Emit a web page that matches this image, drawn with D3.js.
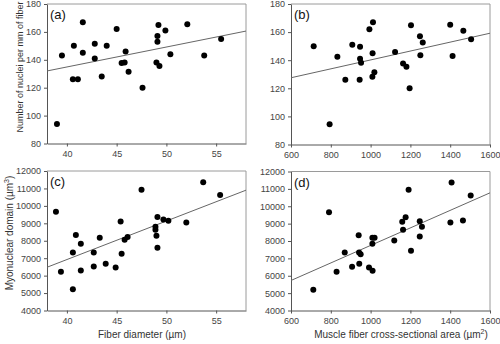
<!DOCTYPE html>
<meta charset="utf-8">
<script src="https://cdn.jsdelivr.net/npm/d3@7"></script>
<style>
    body { margin: 0; background: #fff; }
    text { font-family: "Liberation Sans", Arial, sans-serif; }
</style>
<body>
<script>
// fiber diameter (um) vs nuclei per mm
var diamA   = [39.0, 39.5, 40.7, 40.6, 41.1, 41.6, 41.6, 42.8, 42.8, 43.5, 44.0, 45.0, 45.5, 45.8,
               45.9, 46.2, 47.6, 49.0, 49.3, 49.1, 49.1, 49.2, 49.9, 50.4, 52.1, 53.8, 55.5];
var nucleiA = [94, 143, 150, 126, 126, 167, 145, 141, 151.5, 128, 150, 162, 137.7, 138,
               146, 131.5, 120, 138, 135.5, 153, 157, 165, 161, 144, 165.5, 143, 155];

// cross-sectional area (um2) vs nuclei per mm
var csaB    = [714, 794, 833, 873, 908, 947, 947, 952, 945, 994, 1012, 1010, 1009, 1019,
               1123, 1163, 1180, 1196, 1203, 1248, 1250, 1262, 1400, 1412, 1466, 1505];
var nucleiB = [150, 94.4, 142.5, 126, 151, 141, 149.5, 138.2, 126, 162, 167, 145, 128.2, 131.5,
               145.8, 137.7, 135.3, 120, 164.8, 157, 143.6, 152.6, 165.2, 143, 161, 155];

// fiber diameter vs myonuclear domain (um3)
var diamC   = [38.9, 39.4, 40.6, 40.6, 40.9, 41.4, 41.4, 42.7, 42.7, 43.3, 43.9, 44.9, 45.4, 45.5,
               45.8, 46.1, 47.5, 48.9, 48.9, 49.0, 49.1, 49.1, 49.7, 50.2, 52.0, 53.7, 55.4];
var domainC = [9665, 6220, 7330, 5225, 8325, 7827, 6296, 7330, 6526, 8172, 6679, 6469, 9110, 7253,
               8057, 8210, 10928, 8631, 8804, 8287, 7598, 9359, 9225, 9148, 9053, 11350, 10622];

// cross-sectional area vs myonuclear domain
var csaD    = [712, 791, 829, 870, 907, 940, 942, 950, 943, 992, 1009, 1009, 1010, 1020,
               1119, 1159, 1163, 1176, 1191, 1203, 1247, 1247, 1258, 1401, 1407, 1464, 1503];
var domainD = [5191, 9660, 6227, 7339, 6514, 8337, 7339, 7243, 6687, 6477, 8183, 7838, 6284, 8183,
               8030, 9104, 8644, 9372, 10945, 7435, 9143, 8260, 8816, 9066, 11367, 9181, 10619];

// regression line end points
var fitA = [[38, 132], [58, 160.6]];
var fitB = [[600, 127.5], [1600, 159.2]];
var fitC = [[38, 6480], [58, 10900]];
var fitD = [[600, 5728], [1600, 10772]];

var diamTicks   = [40, 45, 50, 55];
var csaTicks    = [600, 800, 1000, 1200, 1400, 1600];
var nucleiTicks = [80, 100, 120, 140, 160, 180];
var domainTicks = [4000, 5000, 6000, 7000, 8000, 9000, 10000, 11000, 12000];

var width = 500, height = 344;
var svg = d3.select("body").append("svg")
    .attr("width", width)
    .attr("height", height);

var panels = [
  {tag: "(a)", xs: diamA, ys: nucleiA, fit: fitA, xd: [38, 58], yd: [80, 180],
   xt: diamTicks, yt: nucleiTicks, xr: [47, 246], yr: [143.5, 4]},
  {tag: "(b)", xs: csaB, ys: nucleiB, fit: fitB, xd: [600, 1600], yd: [80, 180],
   xt: csaTicks, yt: nucleiTicks, xr: [291, 490], yr: [144.5, 4]},
  {tag: "(c)", xs: diamC, ys: domainC, fit: fitC, xd: [38, 58], yd: [4000, 12000],
   xt: diamTicks, yt: domainTicks, xr: [47, 246], yr: [310.5, 171]},
  {tag: "(d)", xs: csaD, ys: domainD, fit: fitD, xd: [600, 1600], yd: [4000, 12000],
   xt: csaTicks, yt: domainTicks, xr: [291, 490], yr: [310.5, 171.5]}
];

panels.forEach(function(p) {
  var x = d3.scaleLinear().domain(p.xd).range(p.xr);
  var y = d3.scaleLinear().domain(p.yd).range(p.yr);
  var g = svg.append("g");

  // frame on top and right
  g.append("path")
    .attr("d", "M" + p.xr[0] + "," + p.yr[1] + "H" + p.xr[1] + "V" + p.yr[0])
    .attr("fill", "none")
    .attr("stroke", "#9a9a9a")
    .attr("stroke-width", 1);

  var xAxis = g.append("g")
    .attr("transform", "translate(0," + p.yr[0] + ")")
    .call(d3.axisBottom(x).tickValues(p.xt).tickFormat(d3.format("d"))
      .tickSize(3).tickSizeOuter(0));
  var yAxis = g.append("g")
    .attr("transform", "translate(" + p.xr[0] + ",0)")
    .call(d3.axisLeft(y).tickValues(p.yt).tickFormat(d3.format("d"))
      .tickSize(3).tickSizeOuter(0));

  [xAxis, yAxis].forEach(function(a) {
    a.select(".domain").attr("stroke", "#555");
    a.selectAll(".tick line").attr("stroke", "#555");
    a.selectAll(".tick text")
      .attr("fill", "#444")
      .style("font-size", "9px")
      .style("font-family", "'Liberation Sans', Arial, sans-serif");
  });
  xAxis.selectAll(".tick text").attr("y", 7);
  yAxis.selectAll(".tick text").attr("x", -6);

  g.append("line")
    .attr("x1", x(p.fit[0][0])).attr("y1", y(p.fit[0][1]))
    .attr("x2", x(p.fit[1][0])).attr("y2", y(p.fit[1][1]))
    .attr("stroke", "#666")
    .attr("stroke-width", 1);

  g.selectAll("circle")
    .data(p.xs)
    .enter().append("circle")
    .attr("cx", function(d) { return x(d); })
    .attr("cy", function(d, i) { return y(p.ys[i]); })
    .attr("r", 3)
    .attr("fill", "#000");

  g.append("text")
    .attr("x", p.xr[0] + 3)
    .attr("y", p.yr[1] + 15)
    .attr("font-size", "13px")
    .attr("fill", "#111")
    .text(p.tag);
});

// axis titles
svg.append("text")
  .attr("transform", "translate(23,67) rotate(-90)")
  .attr("text-anchor", "middle")
  .attr("font-size", "9px")
  .attr("fill", "#333")
  .text("Number of nuclei per mm of fiber");

var yt2 = svg.append("text")
  .attr("transform", "translate(13,233) rotate(-90)")
  .attr("text-anchor", "middle")
  .attr("font-size", "10px")
  .attr("fill", "#333");
yt2.append("tspan").text("Myonuclear domain (\u00b5m");
yt2.append("tspan").attr("dy", -4).attr("font-size", "7px").text("3");
yt2.append("tspan").attr("dy", 4).text(")");

svg.append("text")
  .attr("x", 142)
  .attr("y", 338)
  .attr("text-anchor", "middle")
  .attr("font-size", "10px")
  .attr("fill", "#333")
  .text("Fiber diameter (\u00b5m)");

var xt2 = svg.append("text")
  .attr("x", 401)
  .attr("y", 338)
  .attr("text-anchor", "middle")
  .attr("font-size", "10px")
  .attr("fill", "#333");
xt2.append("tspan").text("Muscle fiber cross-sectional area (\u00b5m");
xt2.append("tspan").attr("dy", -4).attr("font-size", "7px").text("2");
xt2.append("tspan").attr("dy", 4).text(")");
</script>
</body>
</html>
